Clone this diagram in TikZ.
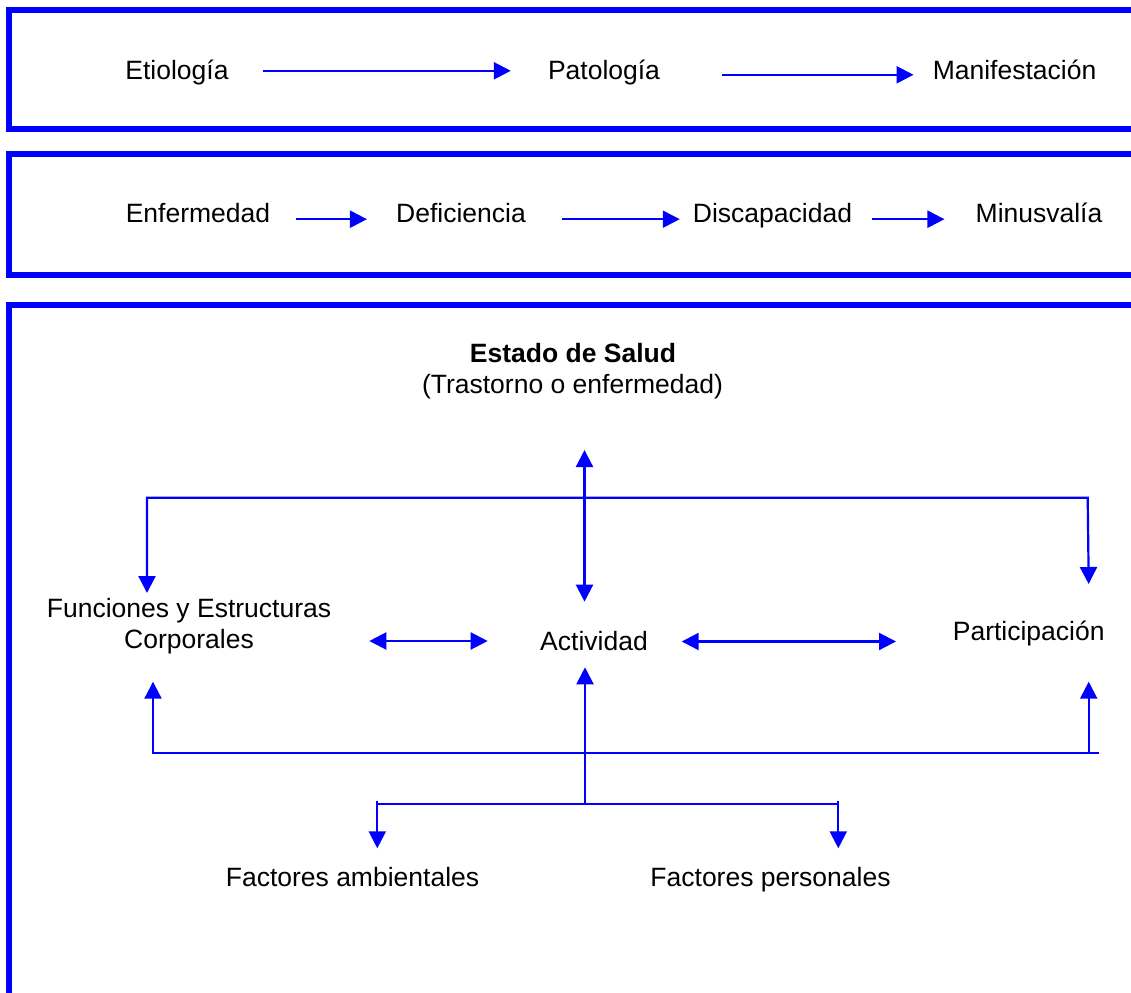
\documentclass[tikz,border=0pt]{standalone}
\usepackage{fontspec}
\setmainfont{Liberation Sans}
\usetikzlibrary{arrows.meta}
\begin{document}
\begin{tikzpicture}[x=1pt,y=-1pt,
  lbl/.style={inner sep=0pt, anchor=base, text height=19pt, text depth=0pt, font=\fontsize{26.5}{31}\selectfont},
  lbl2/.style={inner sep=0pt, align=center, font=\fontsize{26.5}{31}\selectfont},
  frame/.style={draw=blue, line width=6pt, line join=miter},
  conn/.style={draw=blue, line width=2.2pt},
  arr/.style={conn, -{Triangle[length=17pt,width=17pt]}},
  darr/.style={conn, {Triangle[length=17pt,width=17pt]}-{Triangle[length=17pt,width=17pt]}}]
\useasboundingbox (0,0) rectangle (1131,992);
\clip (0,0) rectangle (1131,992);
\fill[white] (0,0) rectangle (1131,992);
% frames
\draw[frame] (1140,10) -- (9,10) -- (9,129.5) -- (1140,129.5);
\draw[frame] (1140,154.5) -- (9,154.5) -- (9,274.5) -- (1140,274.5);
\draw[frame] (1140,305) -- (9,305) -- (9,1000);
% row 1
\node[lbl] (etio) at (177,79.3) {Etiología};
\node[lbl] (pato) at (604,79.3) {Patología};
\node[lbl] (mani) at (1014.5,79.3) {Manifestación};
\draw[arr] ([xshift=34pt,yshift=-1pt]etio.east) -- ([xshift=-37pt,yshift=-1pt]pato.west);
\draw[arr] ([xshift=62pt,yshift=-5pt]pato.east) -- ([xshift=-19pt,yshift=-5pt]mani.west);
% row 2
\node[lbl] (enf) at (198,222.7) {Enfermedad};
\node[lbl] (defi) at (461,222.7) {Deficiencia};
\node[lbl] (disc) at (772.5,222.7) {Discapacidad};
\node[lbl] (minu) at (1039,222.7) {Minusvalía};
\draw[arr] ([xshift=26pt,yshift=-6pt]enf.east) -- ([xshift=-29pt,yshift=-6pt]defi.west);
\draw[arr] ([xshift=36pt,yshift=-6pt]defi.east) -- ([xshift=-13pt,yshift=-6pt]disc.west);
\draw[arr] ([xshift=20pt,yshift=-6pt]disc.east) -- ([xshift=-31pt,yshift=-6pt]minu.west);
% box 3 texts
\node[lbl] (salud) at (573,362.7) {\textbf{Estado de Salud}};
\node[lbl] (trast) at (572.5,393) {(Trastorno o enfermedad)};
\node[lbl2] (fun) at (189,626) {Funciones y Estructuras\\Corporales};
\node[lbl] (act) at (594,650) {Actividad};
\node[lbl] (part) at (1028.7,640) {Participación};
\node[lbl] (amb) at (352.5,886.7) {Factores ambientales};
\node[lbl] (pers) at (770.5,886.7) {Factores personales};
% junction coordinates
\coordinate (tS) at (584.5,450);
\coordinate (tA) at (584.5,601.7);
\coordinate (fT) at (147,593);
\coordinate (cL) at (147,497.7);
\coordinate (cR) at (1087.7,497.7);
\coordinate (pT) at (1088.7,584);
\coordinate (l1) at (369.3,641);
\coordinate (l2) at (487.7,641);
\coordinate (r1) at (681.7,641.5);
\coordinate (r2) at (896,641.5);
\coordinate (fU) at (153,681.7);
\coordinate (bL) at (153,752.7);
\coordinate (bR) at (1099,752.7);
\coordinate (pB) at (1088.7,752.7);
\coordinate (pU) at (1088.7,681.7);
\coordinate (aU) at (585,667.3);
\coordinate (aB) at (585,803);
\coordinate (gL) at (377.3,804);
\coordinate (gR) at (838.3,804);
\coordinate (gLt) at (377.3,800.5);
\coordinate (gRt) at (838.3,800.5);
\coordinate (ambT) at (377.3,848.3);
\coordinate (perT) at (838.3,848.3);
% box 3 connectors
\draw[darr] (tS) -- (tA);
\draw[darr] (fT) -- (cL) -- (cR) -- (pT);
\draw[darr] (l1) -- (l2);
\draw[darr] (r1) -- (r2);
\draw[arr] (bR) -- (bL) -- (fU);
\draw[arr] (pB) -- (pU);
\draw[arr] (aB) -- (aU);
\draw[conn] (gL) -- (gR);
\draw[arr] (gLt) -- (ambT);
\draw[arr] (gRt) -- (perT);
\end{tikzpicture}
\end{document}
